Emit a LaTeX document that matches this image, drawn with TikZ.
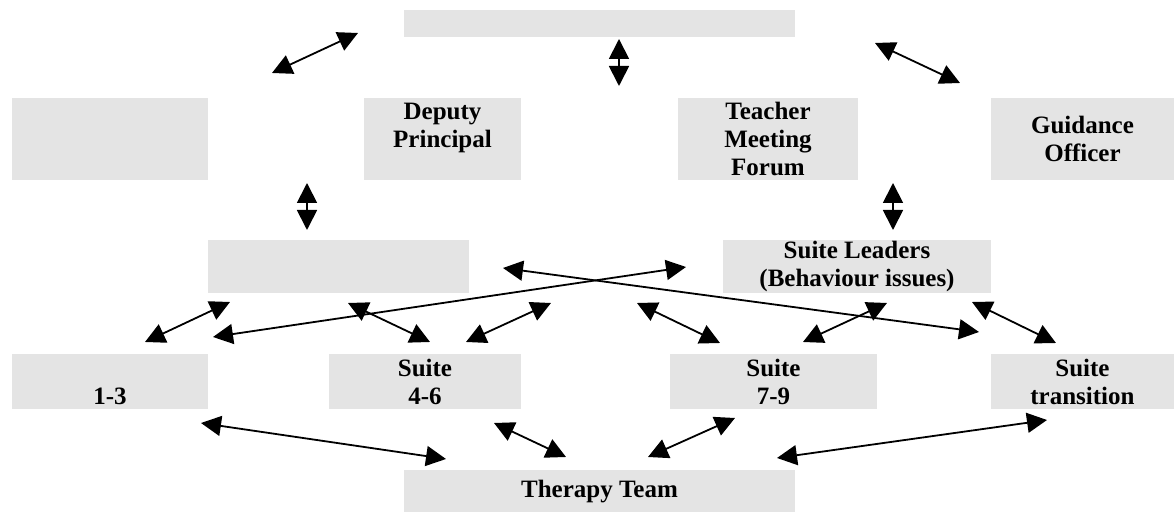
\documentclass[tikz,border=0pt]{standalone}
\usepackage{fontspec}
\setmainfont{Liberation Serif}
\usetikzlibrary{arrows.meta}
\definecolor{BoxGray}{HTML}{E4E4E4}
\tikzset{
    box/.style = {rectangle, fill=BoxGray, inner sep=0pt, align=center,
        font=\fontsize{12.5}{14}\selectfont\bfseries},
    link/.style = {draw, line width=0.9pt, {Triangle[length=10pt,width=10pt]}-{Triangle[length=10pt,width=10pt]}}
}

\begin{document}
\begin{tikzpicture}[x=0.5pt, y=-0.5pt]
        \useasboundingbox (0,0) rectangle (1174,512);
        % top row
        \node [box, minimum width=195.5pt, minimum height=13.5pt] (head) at (599.5,23.5) {};
        % second row
        \node [box, minimum width=98pt, minimum height=41pt] (blankA) at (110,139) {};
        \node [box, minimum width=78.5pt, minimum height=41pt] (deputy) at (442.5,139) {Deputy\\Principal\\\phantom{Forum}};
        \node [box, minimum width=90pt, minimum height=41pt] (forum) at (768,139) {Teacher\\Meeting\\Forum};
        \node [box, minimum width=91.5pt, minimum height=41pt] (guidance) at (1082.5,139) {Guidance\\Officer};
        % third row
        \node [box, minimum width=130.5pt, minimum height=26.5pt] (blankB) at (338.5,266.5) {};
        \node [box, minimum width=134pt, minimum height=26.5pt] (leaders) at (857,266.5) {Suite Leaders\\(Behaviour issues)};
        % suites
        \node [box, minimum width=98pt, minimum height=27.5pt] (suiteA) at (110,381.5) {\phantom{Suite}\\1-3};
        \node [box, minimum width=96pt, minimum height=27.5pt] (suiteB) at (425,381.5) {Suite\\4-6};
        \node [box, minimum width=103.5pt, minimum height=27.5pt] (suiteC) at (773.5,381.5) {Suite\\7-9};
        \node [box, minimum width=91.5pt, minimum height=27.5pt] (suiteD) at (1082.5,381.5) {Suite\\transition};
        % bottom
        \node [box, minimum width=195.5pt, minimum height=21.5pt] (therapy) at (599.5,492) {Therapy Team};

        % arrow ends
        \foreach \n/\ax/\ay/\bx/\by in {
            1/272/73/358/33, 2/619/39/619/86, 3/875/43/960/83,
            4/307/183/307/230, 5/893/183/893/230,
            6/145/342/230/302, 7/213/337/686/267, 8/348/303/430/342,
            9/466/342/551/303, 10/503/268/979/332, 11/637/303/720/343,
            12/803/342/887/303, 13/972/302/1056/343,
            14/201/423/446/459, 15/494/423/566/457, 16/648/457/735/418,
            17/777/458/1047/420}{
            \coordinate (from\n) at (\ax,\ay);
            \coordinate (to\n) at (\bx,\by);
            \draw [link] (from\n) -- (to\n);
        }
\end{tikzpicture}
\end{document}
